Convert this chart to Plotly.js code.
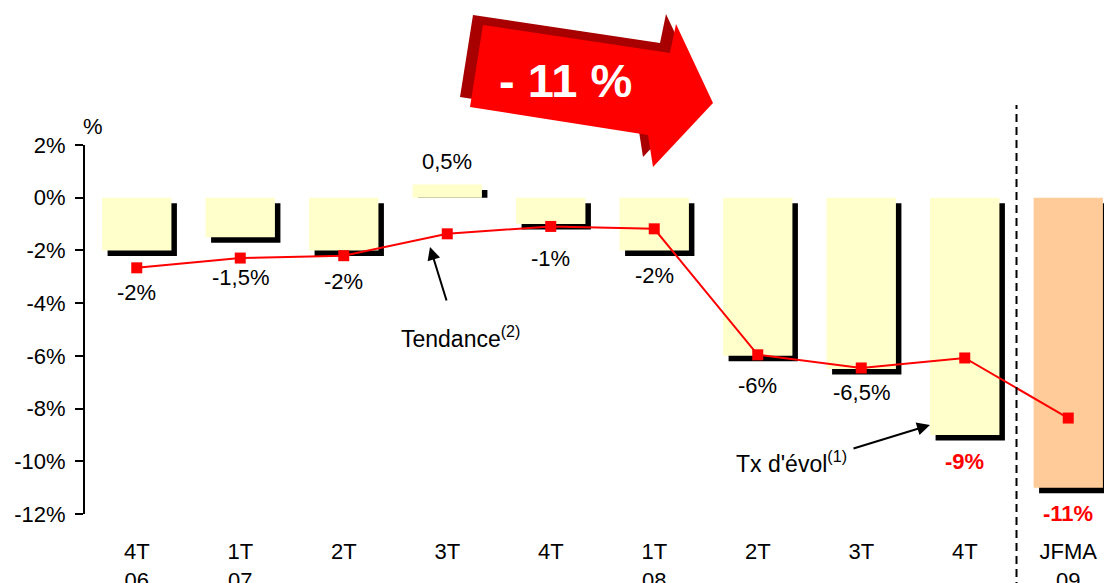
<!DOCTYPE html>
<html>
<head>
<meta charset="utf-8">
<script src="https://cdn.plot.ly/plotly-3.0.1.min.js"></script>
<style>
  html, body { margin: 0; padding: 0; background: #ffffff; overflow: hidden; }
  #chart { width: 1104px; height: 583px; }
</style>
</head>
<body>
<div id="chart"></div>
<script>
// ---- Data ----
const categories = ['4T<br>06', '1T<br>07', '2T', '3T', '4T', '1T<br>08', '2T', '3T', '4T', 'JFMA<br>09'];
const evolValues = [-2, -1.5, -2, 0.5, -1, -2, -6, -6.5, -9, -11];          // Tx d'évol (1), %
const evolLabels = ['-2%', '-1,5%', '-2%', '0,5%', '-1%', '-2%', '-6%', '-6,5%', '-9%', '-11%'];
const trendValues = [-2.66, -2.29, -2.2, -1.37, -1.09, -1.18, -5.96, -6.46, -6.08, -8.36]; // Tendance (2), %
const yTickValues = [-12, -10, -8, -6, -4, -2, 0, 2];
const yTickLabels = ['-12%', '-10%', '-8%', '-6%', '-4%', '-2%', '0%', '2%'];

// ---- Layout geometry (pixels) ----
const W = 1104, H = 583;
const M = { l: 85, r: 0, t: 145, b: 69 };
const PW = W - M.l - M.r, PH = H - M.t - M.b;
const Y_MIN = -12, Y_MAX = 2;
const CAT_PX = 103.5;
const X_MIN = -0.5, X_MAX = X_MIN + PW / CAT_PX;
const pxPerUnitY = PH / (Y_MAX - Y_MIN);
const idx = categories.map((_, i) => i);

// pixel -> paper helpers (for decorations only)
const px = v => (v - M.l) / PW;
const py = v => (M.t + PH - v) / PH;

const FONT = 'Liberation Sans, Arial, Helvetica, sans-serif';
const BAR_W = 0.67;
const SHADOW_PX = 5.5;
const shadowDX = SHADOW_PX / CAT_PX;
const shadowDY = SHADOW_PX / pxPerUnitY;

const faceColors = idx.map(i => i === categories.length - 1 ? '#FFCC99' : '#FFFFCC');
// drop shadow: offset down-right, clipped at the zero line for positive bars
const shadowBase = evolValues.map(v => v < 0 ? -shadowDY : 0);
const shadowLen = evolValues.map(v => v < 0 ? v : Math.max(v - shadowDY, 0));

const traces = [
  { // shadow
    type: 'bar', x: idx, y: shadowLen, base: shadowBase,
    width: BAR_W, offset: -BAR_W / 2 + shadowDX,
    marker: { color: '#000000', line: { width: 0 } },
    hoverinfo: 'skip'
  },
  { // face
    type: 'bar', x: idx, y: evolValues,
    width: BAR_W, offset: -BAR_W / 2,
    marker: { color: faceColors, line: { width: 0 } },
    name: "Tx d'évol"
  },
  { // trend
    type: 'scatter', mode: 'lines+markers', x: idx, y: trendValues,
    line: { color: '#FF0000', width: 2 },
    marker: { symbol: 'square', size: 11, color: '#FF0000' },
    name: 'Tendance'
  }
];

// Data label vertical offsets (px, positive = down from the bar end)
const labelShift = [42, 40, 31, -23, 34, 25, 30, 23, 27, 26];
const annotations = evolLabels.map((t, i) => {
  const strong = i >= categories.length - 2;
  return {
    x: i, y: evolValues[i], xref: 'x', yref: 'y',
    text: strong ? '<b>' + t + '</b>' : t,
    showarrow: false, xanchor: 'center', yanchor: 'middle',
    yshift: -labelShift[i],
    font: { family: FONT, size: 22, color: strong ? '#FF0000' : '#000000' }
  };
});

// Axis unit
annotations.push({
  x: px(93), y: py(127), xref: 'paper', yref: 'paper', text: '%',
  showarrow: false, xanchor: 'center', yanchor: 'middle',
  font: { family: FONT, size: 22, color: '#000000' }
});

// Callout texts
annotations.push({
  x: px(399), y: py(337), xref: 'paper', yref: 'paper',
  text: 'Tendance<sup>(2)</sup>', showarrow: false, xanchor: 'left', yanchor: 'middle',
  font: { family: FONT, size: 23, color: '#000000' }
});
annotations.push({
  x: px(734), y: py(462), xref: 'paper', yref: 'paper',
  text: "Tx d'évol<sup>(1)</sup>", showarrow: false, xanchor: 'left', yanchor: 'middle',
  font: { family: FONT, size: 23, color: '#000000' }
});
// Callout arrows
annotations.push({
  x: px(430), y: py(247), xref: 'paper', yref: 'paper', text: '',
  showarrow: true, ax: 17, ay: 55, arrowhead: 2, arrowsize: 1.3, arrowwidth: 2,
  arrowcolor: '#000000', standoff: 0
});
annotations.push({
  x: px(930), y: py(425), xref: 'paper', yref: 'paper', text: '',
  showarrow: true, ax: -78, ay: 24, arrowhead: 2, arrowsize: 1.3, arrowwidth: 2,
  arrowcolor: '#000000', standoff: 0
});

// Big arrow decoration "- 11 %"
const arrowPts = [[483, 25], [670, 53], [676, 24], [713, 103], [653, 167], [648, 135], [470, 107]];
const pathOf = (pts, dx, dy) => 'M ' + pts.map(p => px(p[0] + dx) + ',' + py(p[1] + dy)).join(' L ') + ' Z';
const shapes = [
  {
    type: 'path', xref: 'paper', yref: 'paper', path: pathOf(arrowPts, -10, -10),
    fillcolor: '#A80000', line: { width: 0 }, layer: 'above'
  },
  {
    type: 'path', xref: 'paper', yref: 'paper', path: pathOf(arrowPts, 0, 0),
    fillcolor: '#FF0000', line: { width: 0 }, layer: 'above'
  },
  { // separator between 2008 quarters and JFMA 09
    type: 'line', xref: 'x', yref: 'paper', x0: 8.5, x1: 8.5, y0: py(590), y1: py(105),
    line: { color: '#000000', width: 2, dash: '8px,5px' }, layer: 'above'
  }
];
annotations.push({
  x: px(565), y: py(80), xref: 'paper', yref: 'paper', text: '<b>- 11 %</b>',
  showarrow: false, xanchor: 'center', yanchor: 'middle',
  font: { family: FONT, size: 47, color: '#FFFFFF' }
});

const layout = {
  width: W, height: H, margin: M,
  paper_bgcolor: '#FFFFFF', plot_bgcolor: '#FFFFFF',
  showlegend: false, barmode: 'overlay',
  font: { family: FONT, size: 22, color: '#000000' },
  xaxis: {
    range: [X_MIN, X_MAX], tickvals: idx, ticktext: categories,
    ticks: 'outside', ticklen: 18, tickcolor: 'rgba(0,0,0,0)',
    showline: false, showgrid: false, zeroline: false,
    tickfont: { family: FONT, size: 22, color: '#000000' }, fixedrange: true
  },
  xaxis2: {
    overlaying: 'x', anchor: 'free', position: (0 - Y_MIN) / (Y_MAX - Y_MIN), side: 'bottom',
    range: [X_MIN, X_MAX], tickvals: idx.slice(0, -1).map(i => i + 0.5),
    showticklabels: false, ticks: 'outside', ticklen: 6, tickwidth: 2, tickcolor: '#000000',
    showline: true, linecolor: '#000000', linewidth: 2, showgrid: false, zeroline: false,
    fixedrange: true
  },
  yaxis: {
    range: [Y_MIN, Y_MAX], tickvals: yTickValues, ticktext: yTickLabels,
    ticks: 'outside', ticklen: 8, tickwidth: 2, tickcolor: '#000000',
    ticklabelstandoff: 5,
    showline: true, linecolor: '#000000', linewidth: 2,
    showgrid: false, zeroline: false,
    tickfont: { family: FONT, size: 22, color: '#000000' }, fixedrange: true
  },
  annotations: annotations,
  shapes: shapes
};

Plotly.newPlot('chart', traces, layout, { displayModeBar: false, staticPlot: true });
</script>
</body>
</html>
